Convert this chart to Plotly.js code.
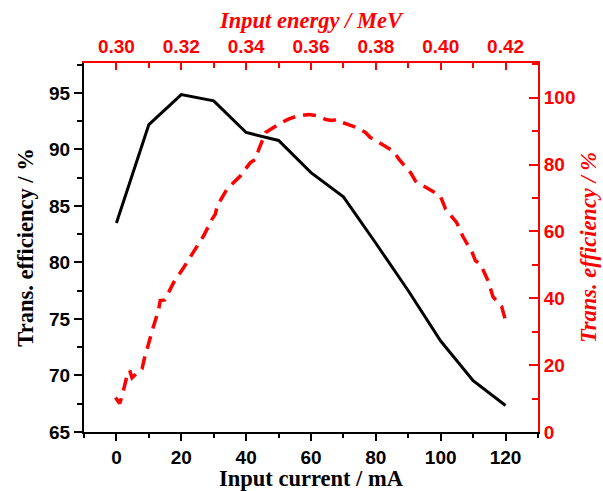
<!DOCTYPE html>
<html>
<head>
<meta charset="utf-8">
<script src="https://cdn.plot.ly/plotly-3.0.1.min.js"></script>
<style>html,body{margin:0;padding:0;background:#fff;}#chart{width:603px;height:491px;}</style>
</head>
<body>
<div id="chart"></div>
<script>
// Black series: transmission efficiency vs input current
const currentMA = [0, 10, 20, 30, 40, 50, 60, 70, 80, 90, 100, 110, 120];
const effCurrent = [83.5, 92.2, 94.85, 94.3, 91.5, 90.8, 87.95, 85.8, 81.7, 77.5, 73.05, 69.55, 67.35];

// Red series: transmission efficiency vs input energy
const energyMeV = [0.2997, 0.3010, 0.3018, 0.3031, 0.3041, 0.3048, 0.3069, 0.3079, 0.3086, 0.3100,
  0.3113, 0.3130, 0.3135, 0.3149, 0.3177, 0.3208, 0.3238, 0.3269, 0.3295, 0.3305,
  0.3311, 0.3341, 0.3382, 0.3413, 0.3429, 0.3439, 0.3460, 0.3475, 0.3501, 0.3530,
  0.3557, 0.3593, 0.3620, 0.3645, 0.3665, 0.3680, 0.3691, 0.3720, 0.3742, 0.3768,
  0.3783, 0.3810, 0.3835, 0.3855, 0.3871, 0.3890, 0.3907, 0.3922, 0.3943, 0.3965,
  0.3999, 0.4015, 0.4049, 0.4069, 0.4097, 0.4107, 0.4123, 0.4148, 0.4161, 0.4188, 0.4200];
const effEnergy = [10.3, 8.5, 11.0, 16.2, 18.4, 16.2, 18.2, 18.9, 21.9, 26.9,
  31.2, 36.5, 39.3, 39.5, 44.8, 49.3, 53.7, 58.7, 63.7, 65.2,
  67.7, 72.7, 76.6, 80.6, 81.6, 84.6, 89.6, 90.6, 92.1, 93.6,
  94.5, 95.0, 94.6, 93.5, 93.2, 93.5, 92.8, 91.8, 91.0, 89.6,
  88.1, 86.6, 85.1, 83.9, 81.6, 79.6, 77.6, 75.1, 73.9, 72.6,
  70.6, 66.7, 62.7, 58.4, 53.7, 51.3, 50.1, 44.8, 40.5, 37.5, 33.3];

const bottomTitle = 'Input current / mA';
const topTitle = 'Input energy / MeV';
const leftTitle = 'Trans. efficiency / %';
const rightTitle = 'Trans. efficiency / %';

const RED = '#ff0000';
const tickFont = (c) => ({family: 'Liberation Sans, Arial, sans-serif', size: 19, weight: 'bold', color: c});
const titleFont = (c, italic) => ({family: 'Liberation Serif, Times New Roman, serif', size: 22.5, weight: 'bold', style: italic ? 'italic' : 'normal', color: c});

const traces = [
  {x: currentMA, y: effCurrent, type: 'scatter', mode: 'lines', xaxis: 'x', yaxis: 'y',
   line: {color: '#000000', width: 3}, showlegend: false},
  {x: energyMeV, y: effEnergy, type: 'scatter', mode: 'lines', xaxis: 'x2', yaxis: 'y2',
   line: {color: RED, width: 3.5, dash: '13px,8px', shape: 'linear'}, showlegend: false}
];

const layout = {
  width: 603, height: 491,
  margin: {l: 84, r: 65, t: 63, b: 59, pad: 0},
  paper_bgcolor: '#ffffff', plot_bgcolor: '#ffffff',
  showlegend: false,
  xaxis: {
    range: [-10, 130], tick0: 0, dtick: 20, showgrid: false, zeroline: false,
    showline: true, linecolor: '#000', linewidth: 2,
    ticks: 'outside', ticklen: 7, tickwidth: 2, tickcolor: '#000',
    minor: {dtick: 10, ticks: 'outside', ticklen: 4, tickwidth: 2, tickcolor: '#000', showgrid: false},
    tickfont: tickFont('#000'),
    title: {text: bottomTitle, font: titleFont('#000', false), standoff: 3}
  },
  xaxis2: {
    overlaying: 'x', side: 'top', range: [0.29, 0.43], tick0: 0.30, dtick: 0.02, tickformat: '.2f',
    showgrid: false, zeroline: false,
    showline: true, linecolor: RED, linewidth: 2,
    ticks: 'inside', ticklen: 7, tickwidth: 2, tickcolor: RED,
    minor: {dtick: 0.01, ticks: 'inside', ticklen: 5, tickwidth: 2, tickcolor: RED, showgrid: false},
    tickfont: tickFont(RED),
    title: {text: topTitle, font: titleFont(RED, true), standoff: 2}
  },
  yaxis: {
    range: [65, 97.65], tick0: 65, dtick: 5, showgrid: false, zeroline: false,
    showline: true, linecolor: '#000', linewidth: 2,
    ticks: 'outside', ticklen: 8, tickwidth: 2, tickcolor: '#000',
    minor: {dtick: 2.5, ticks: 'outside', ticklen: 5, tickwidth: 2, tickcolor: '#000', showgrid: false},
    tickfont: tickFont('#000'),
    title: {text: leftTitle, font: titleFont('#000', false), standoff: 9}
  },
  yaxis2: {
    overlaying: 'y', side: 'right', range: [0, 110.4], tick0: 0, dtick: 20,
    showgrid: false, zeroline: false,
    showline: true, linecolor: RED, linewidth: 2,
    ticks: 'inside', ticklen: 9, tickwidth: 2, tickcolor: RED,
    minor: {dtick: 10, ticks: 'inside', ticklen: 6, tickwidth: 2, tickcolor: RED, showgrid: false},
    tickfont: tickFont(RED),
    title: {text: rightTitle, font: titleFont(RED, true), standoff: 6}
  }
};

Plotly.newPlot('chart', traces, layout, {displayModeBar: false, staticPlot: true});
</script>
</body>
</html>
